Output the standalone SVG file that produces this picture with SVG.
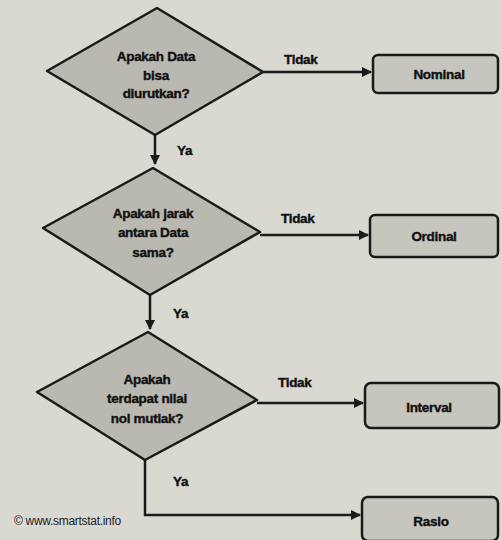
<svg xmlns="http://www.w3.org/2000/svg" width="502" height="540" viewBox="0 0 502 540">
<defs>
<marker id="ah" viewBox="0 0 10 10" refX="9" refY="5" markerWidth="4" markerHeight="4" orient="auto" markerUnits="strokeWidth">
<path d="M0,0 L10,5 L0,10 z" fill="#1a1a1a"/>
</marker>
<style>
.dia{fill:#b9b9b1;stroke:#1a1a1a;stroke-width:2.5;stroke-linejoin:round}
.box{fill:#c6c6be;stroke:#1a1a1a;stroke-width:2.5}
.ln{fill:none;stroke:#1a1a1a;stroke-width:2.5}
.t{font-family:"Liberation Sans",Arial,sans-serif;font-weight:bold;font-size:13.5px;fill:#111;stroke:#111;stroke-width:0.4;text-anchor:middle;letter-spacing:-0.3px}
.lb{font-family:"Liberation Sans",Arial,sans-serif;font-weight:bold;font-size:13.5px;fill:#111;stroke:#111;stroke-width:0.4;letter-spacing:-0.3px}
.cp{font-family:"Liberation Sans",Arial,sans-serif;font-size:12px;fill:#222;letter-spacing:-0.3px}
</style>
</defs>
<rect width="502" height="540" fill="#d9d9d1"/>
<g id="connectors">
<path class="ln" d="M155,135 V164" marker-end="url(#ah)"/>
<path class="ln" d="M150,295 V329" marker-end="url(#ah)"/>
<path class="ln" d="M263,72 H371" marker-end="url(#ah)"/>
<path class="ln" d="M260,235 H368" marker-end="url(#ah)"/>
<path class="ln" d="M257,403 H363" marker-end="url(#ah)"/>
<path class="ln" d="M145,460 V515 H360" marker-end="url(#ah)"/>
<text class="lb" x="177" y="155">Ya</text>
<text class="lb" x="173" y="318">Ya</text>
<text class="lb" x="173" y="486">Ya</text>
<text class="lb" x="284" y="64">Tidak</text>
<text class="lb" x="281" y="223">Tidak</text>
<text class="lb" x="278" y="387">Tidak</text>
</g>
<g id="q1">
<polygon class="dia" points="157,8 263,72 155,135 47,71"/>
<text class="t" x="156" y="61">Apakah Data</text>
<text class="t" x="156" y="80">bisa</text>
<text class="t" x="156" y="98">diurutkan?</text>
</g>
<g id="q2">
<polygon class="dia" points="153,168 260,232 150,295 43,228"/>
<text class="t" x="153" y="218">Apakah jarak</text>
<text class="t" x="153" y="237">antara Data</text>
<text class="t" x="153" y="257">sama?</text>
</g>
<g id="q3">
<polygon class="dia" points="148,332 257,400 145,460 37,392"/>
<text class="t" x="147" y="384">Apakah</text>
<text class="t" x="147" y="403">terdapat nilai</text>
<text class="t" x="147" y="423">nol mutlak?</text>
</g>
<g id="nominal">
<rect class="box" x="373" y="55" width="125" height="38" rx="5"/>
<text class="t" x="439" y="79">Nominal</text>
</g>
<g id="ordinal">
<rect class="box" x="370" y="215" width="128" height="42" rx="5"/>
<text class="t" x="434" y="241">Ordinal</text>
</g>
<g id="interval">
<rect class="box" x="365" y="383" width="134" height="45" rx="6"/>
<text class="t" x="429" y="412">Interval</text>
</g>
<g id="rasio">
<rect class="box" x="362" y="497" width="136" height="44" rx="6"/>
<text class="t" x="431" y="526">Rasio</text>
</g>
<text class="cp" x="14" y="525">© www.smartstat.info</text>
</svg>
